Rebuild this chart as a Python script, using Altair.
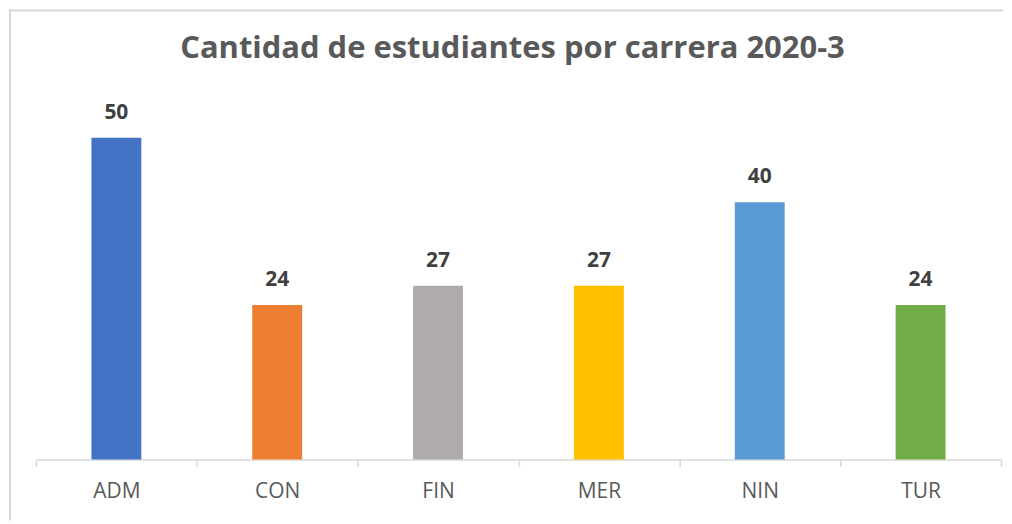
import altair as alt
import pandas as pd

categories = ["ADM", "CON", "FIN", "MER", "NIN", "TUR"]
values = [50, 24, 27, 27, 40, 24]
colors = ["#4472C4", "#ED7D31", "#AFABAB", "#FFC000", "#5B9BD5", "#70AD47"]

df = pd.DataFrame({"carrera": categories, "n": values, "color": colors})

FONT = "Open Sans"

x = alt.X("carrera:N", sort=categories, title=None,
          scale=alt.Scale(paddingInner=0, paddingOuter=0),
          axis=alt.Axis(labelAngle=0, labelFontSize=21, labelColor="#595959",
                        labelFont=FONT, labelPadding=14, domainColor="#D9D9D9",
                        domainWidth=1.5, tickColor="#D9D9D9", tickWidth=1.5,
                        tickSize=7, tickBand="extent", ticks=True))
y = alt.Y("n:Q", title=None, scale=alt.Scale(domain=[0, 60]), axis=None)

base1 = alt.Chart(df).transform_filter(alt.datum.carrera == "ADM")
top_line = base1.mark_rule(stroke="#D9D9D9", strokeWidth=2).encode(
    x=alt.value(-27), x2=alt.value(969), y=alt.value(-63)
)
left_line = base1.mark_rule(stroke="#D9D9D9", strokeWidth=2).encode(
    x=alt.value(-26), y=alt.value(-64), y2=alt.value(448)
)

bars = alt.Chart(df).mark_bar(width=50).encode(
    x=x, y=y, color=alt.Color("color:N", scale=None)
)
text = alt.Chart(df).mark_text(fontSize=21, fontWeight="bold", color="#404040",
                               font=FONT, baseline="alphabetic", dy=-19).encode(
    x=alt.X("carrera:N", sort=categories), y="n:Q", text="n:Q"
)

chart = alt.layer(top_line, left_line, bars, text).properties(
    width=967, height=387,
    padding=0,
    title=alt.TitleParams("Cantidad de estudiantes por carrera 2020-3",
                          fontSize=31, fontWeight="bold", color="#595959",
                          font=FONT, offset=-57, anchor="middle", frame="group",
                          dx=-6),
).configure_view(stroke=None)

chart.save("out.html", embed_options={"renderer": "svg", "actions": False})
